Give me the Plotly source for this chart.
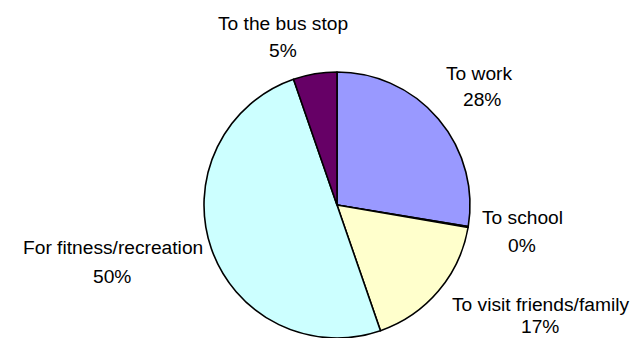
import plotly.graph_objects as go

# ---- data ----
categories = ["To work", "To school", "To visit friends/family",
              "For fitness/recreation", "To the bus stop"]
shares = [27.6, 0.1, 17.0, 50.0, 5.3]
slice_colors = ["#9999FF", "#993366", "#FFFFCC", "#CCFFFF", "#660066"]

W, H = 631, 338

# pie geometry (pixels)
cx, cy, r = 337, 205, 133

fig = go.Figure(go.Pie(
    labels=categories,
    values=shares,
    sort=False,
    direction="clockwise",
    rotation=0,
    marker=dict(colors=slice_colors, line=dict(color="black", width=1.6)),
    textinfo="none",
    hoverinfo="label+percent",
    showlegend=False,
    domain=dict(x=[(cx - r) / W, (cx + r) / W], y=[(H - cy - r) / H, (H - cy + r) / H]),
))

# label placement (pixel centers of name line and percent line)
label_pos = {
    "To work": ((479.5, 73.2), (481.5, 99.6)),
    "To school": ((522, 217.5), (522, 245)),
    "To visit friends/family": ((540, 304.5), (540, 326.0)),
    "For fitness/recreation": ((112.8, 247.5), (111.7, 276)),
    "To the bus stop": ((282.5, 23), (282.5, 50.3)),
}

total = sum(shares)
font = dict(family="Liberation Sans, Arial, sans-serif", size=19.2, color="black")
annotations = []
for name, v in zip(categories, shares):
    (nx, ny), (px_, py_) = label_pos[name]
    pct = f"{round(100 * v / total):d}%"
    for txt, x, y in ((name, nx, ny), (pct, px_, py_)):
        annotations.append(dict(
            text=txt, x=x / W, y=1 - y / H, xref="paper", yref="paper",
            xanchor="center", yanchor="middle", showarrow=False, font=font,
        ))

fig.update_layout(
    width=W, height=H,
    margin=dict(l=0, r=0, t=0, b=0),
    paper_bgcolor="white",
    plot_bgcolor="white",
    annotations=annotations,
)

fig.write_html(
    "out.html",
    config={"displayModeBar": False},
    post_script="document.body.style.margin='0';document.body.style.overflow='hidden';",
)
